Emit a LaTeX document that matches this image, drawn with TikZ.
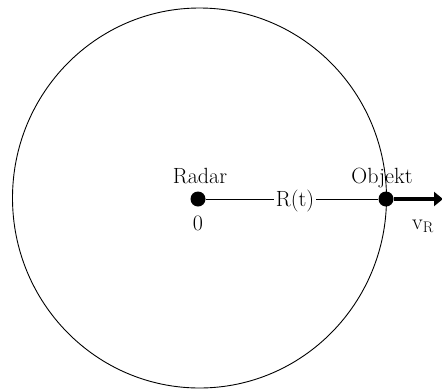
\documentclass[tikz,border=0pt]{standalone}
\usepackage{fontspec}
\usetikzlibrary{arrows.meta}
\begin{document}
\begin{tikzpicture}[x=1pt,y=-1pt,
  lbl/.style={font=\fontsize{22}{24}\selectfont, inner sep=1pt},
  dot/.style={circle, fill=black, minimum size=15pt, inner sep=0pt}]
\useasboundingbox (0,0) rectangle (442,389);
\draw[line width=0.9pt] (199.5,198) ellipse [x radius=187, y radius=190];
\node[dot] (radar) at (198,199) {};
\node[dot] (obj) at (386,199) {};
\node[lbl, inner sep=2pt] (rt) at (295,201) {R(t)};
\draw[line width=0.8pt] (radar) -- (radar -| rt.west);
\draw[line width=0.8pt] (rt.east |- obj) -- (obj);
\node[lbl, anchor=base] (radarlbl) at (200,183) {Radar};
\node[lbl, anchor=base] (zero) at (198,230) {0};
\node[lbl, anchor=base] (objlbl) at (382,183) {Objekt};
\node[lbl, anchor=base] (vr) at (423,229) {v\textsubscript{R}};
\coordinate (tipend) at (443,199);
\draw[line width=4pt, -{Triangle[length=9pt, width=14pt]}] (obj) -- (tipend);
\end{tikzpicture}
\end{document}
